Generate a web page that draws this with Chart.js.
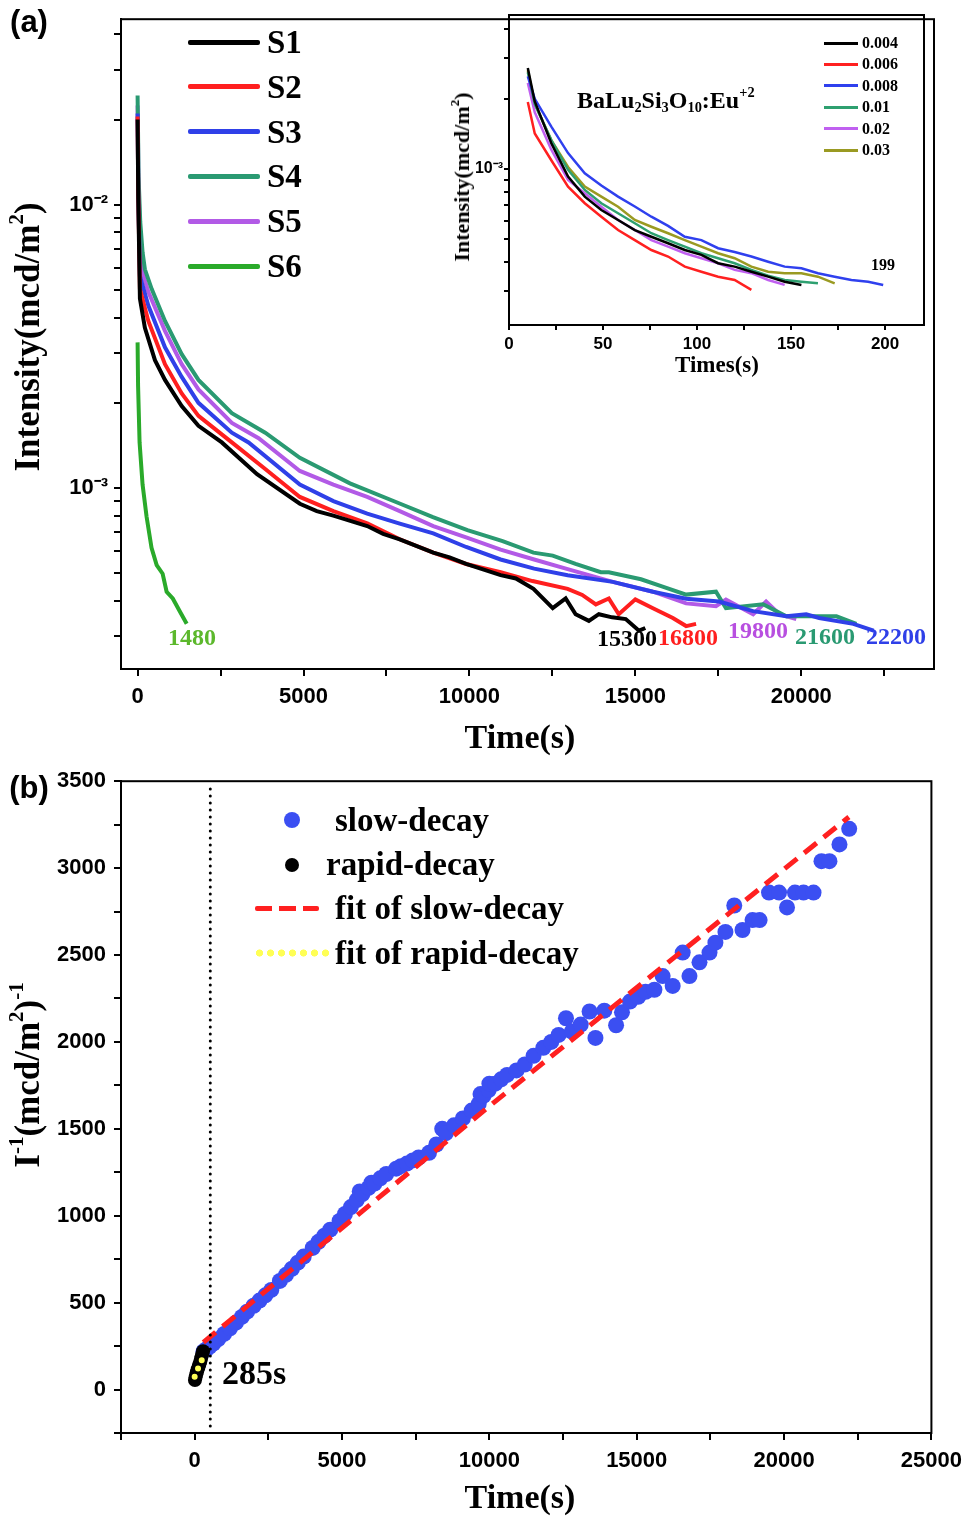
<!DOCTYPE html>
<html>
<head>
<meta charset="utf-8">
<script src="https://cdn.jsdelivr.net/npm/chart.js@4.4.0/dist/chart.umd.min.js"></script>
<style>
  body { margin: 0; background: #fff; }
  #page { position: relative; width: 970px; height: 1519px; overflow: hidden; background: #fff;
          font-family: "Liberation Serif", "Times New Roman", serif; font-weight: bold; color: #000; }
  canvas { position: absolute; }
  .t { position: absolute; white-space: nowrap; line-height: 1; z-index: 5; }
  .c { transform: translate(-50%, -50%); }
  .l { transform: translate(0, -50%); }
  .rot { transform: translate(-50%, -50%) rotate(-90deg); }
  .sans { font-family: "Liberation Sans", Arial, sans-serif; }
  sup { font-size: 0.6em; vertical-align: 0.75em; line-height: 0; }
  sub { font-size: 0.6em; vertical-align: -0.3em; line-height: 0; }
  .sw { position: absolute; z-index: 5; }
</style>
</head>
<body>
<div id="page">
  <canvas id="chartA" width="970" height="760" style="left:0;top:0"></canvas>
  <canvas id="chartInset" width="500" height="380" style="left:440px;top:0"></canvas>
  <canvas id="chartB" width="970" height="759" style="left:0;top:760px"></canvas>

  <!-- panel (a) text -->
  <div class="t c sans" style="left:29px;top:21px;font-size:31px">(a)</div>
  <div class="t rot" style="left:27px;top:337px;font-size:35px">Intensity(mcd/m<sup>2</sup>)</div>
  <div class="t c" style="left:520px;top:737px;font-size:34px">Time(s)</div>

  <div id="legendA"></div>

  <div class="t l" style="left:168px;top:637px;font-size:24px;color:#5cb82c">1480</div>
  <div class="t l" style="left:597px;top:638px;font-size:24px;color:#000">15300</div>
  <div class="t l" style="left:658px;top:637px;font-size:24px;color:#ff1f1f">16800</div>
  <div class="t l" style="left:728px;top:630px;font-size:24px;color:#b84fe0">19800</div>
  <div class="t l" style="left:795px;top:636px;font-size:24px;color:#2a9a72">21600</div>
  <div class="t l" style="left:866px;top:636px;font-size:24px;color:#2f40e8">22200</div>

  <!-- inset text -->
  <div class="t rot" style="left:462px;top:177px;font-size:22px">Intensity(mcd/m<sup>2</sup>)</div>
  <div class="t c" style="left:717px;top:364px;font-size:23px">Times(s)</div>
  <div class="t l" style="left:577px;top:100px;font-size:24px">BaLu<sub>2</sub>Si<sub>3</sub>O<sub>10</sub>:Eu<sup>+2</sup></div>
  <div class="t l" style="left:871px;top:265px;font-size:16px">199</div>
  <div id="legendInset"></div>

  <!-- panel (b) text -->
  <div class="t c sans" style="left:29px;top:787px;font-size:31px">(b)</div>
  <div class="t rot" style="left:27px;top:1075px;font-size:35px">I<sup>-1</sup>(mcd/m<sup>2</sup>)<sup>-1</sup></div>
  <div class="t c" style="left:520px;top:1497px;font-size:34px">Time(s)</div>
  <div class="t l" style="left:222px;top:1373px;font-size:34px">285s</div>
  <div id="legendB"></div>
</div>

<script>
// ---------- panel (a): afterglow decay curves ----------
const A_NAMES = ['S1', 'S2', 'S3', 'S4', 'S5', 'S6'];
const A_COLORS = ['#000000', '#ff1f1f', '#2f40e8', '#2a9a72', '#b25ae6', '#2aaa2a'];

const S1_T = [0, 20, 70, 220, 523, 825, 1329, 1834, 2538, 3600, 4890, 5400, 5900, 6920, 7400, 7900, 8910, 9400, 9900, 10940, 11400, 11930, 12510, 12900, 13200, 13600, 13900, 14300, 14710, 15110, 15300];
const S1_V = [0.020, 0.0105, 0.00467, 0.00368, 0.00283, 0.00241, 0.00195, 0.00166, 0.00145, 0.00112, 0.000881, 0.00083, 0.0008, 0.000735, 0.00069, 0.00066, 0.000592, 0.00057, 0.00054, 0.000493, 0.00048, 0.000441, 0.000377, 0.000408, 0.000359, 0.00034, 0.000359, 0.00035, 0.000345, 0.000314, 0.000321];

const S2_T = [0, 20, 70, 323, 825, 1329, 1834, 2840, 3800, 4890, 5900, 6920, 7900, 8910, 9900, 10940, 11900, 12960, 13400, 13810, 14200, 14500, 15000, 15530, 16130, 16530, 16830];
const S2_V = [0.0205, 0.011, 0.00505, 0.00389, 0.00274, 0.00216, 0.0018, 0.00145, 0.00118, 0.000931, 0.00083, 0.000752, 0.00066, 0.000592, 0.00054, 0.000505, 0.00047, 0.000441, 0.00042, 0.000389, 0.000408, 0.000359, 0.000405, 0.000377, 0.000348, 0.000326, 0.000332];

const S3_T = [0, 20, 70, 323, 825, 1329, 1834, 2840, 3344, 4890, 5900, 6920, 7900, 8910, 9900, 10940, 11950, 12960, 14320, 15530, 16530, 17520, 18550, 19550, 20150, 20540, 21570, 22180];
const S3_V = [0.021, 0.011, 0.0056, 0.00441, 0.00314, 0.00247, 0.002, 0.00157, 0.00145, 0.00103, 0.0009, 0.000813, 0.00075, 0.000693, 0.00062, 0.00056, 0.00052, 0.000493, 0.000467, 0.000431, 0.000407, 0.000398, 0.000368, 0.000353, 0.000359, 0.000348, 0.000332, 0.000314];

const S4_T = [0, 30, 80, 150, 220, 423, 825, 1329, 1834, 2840, 3846, 4890, 6400, 7915, 8900, 9940, 11000, 11930, 12510, 13200, 13960, 14200, 15170, 15800, 16530, 17430, 17730, 18850, 19550, 20300, 21060, 21660];
const S4_V = [0.0243, 0.0125, 0.0087, 0.0068, 0.00592, 0.00505, 0.00389, 0.00297, 0.00241, 0.00184, 0.00157, 0.00128, 0.00104, 0.000881, 0.00079, 0.000711, 0.00065, 0.000592, 0.000578, 0.00054, 0.000505, 0.000505, 0.000477, 0.00045, 0.000421, 0.000431, 0.000377, 0.000389, 0.000353, 0.000353, 0.000353, 0.000332];

const S5_T = [0, 30, 70, 121, 323, 825, 1329, 1834, 2840, 3647, 4890, 5900, 6920, 7900, 8910, 9900, 10940, 11950, 12960, 14320, 15530, 16530, 17430, 17730, 18550, 18940, 19340, 19850];
const S5_V = [0.0224, 0.0115, 0.0078, 0.00592, 0.00493, 0.00359, 0.00274, 0.00223, 0.0017, 0.0015, 0.00115, 0.00103, 0.000931, 0.00083, 0.000735, 0.00067, 0.000607, 0.00056, 0.000518, 0.000467, 0.000431, 0.000392, 0.000383, 0.000404, 0.000359, 0.000398, 0.000359, 0.000345];

const S6_T = [0, 15, 60, 150, 270, 420, 575, 755, 875, 1060, 1270, 1480];
const S6_V = [0.00327, 0.00229, 0.00145, 0.00103, 0.000794, 0.000616, 0.000535, 0.000499, 0.000431, 0.000408, 0.000368, 0.000332];

const A_X_TICKS = [0, 2500, 5000, 7500, 10000, 12500, 15000, 17500, 20000, 22500];
const A_Y_TICKS = [0.0003, 0.0004, 0.0005, 0.0006, 0.0007, 0.0008, 0.0009, 0.001, 0.002, 0.003, 0.004, 0.005, 0.006, 0.007, 0.008, 0.009, 0.01, 0.02, 0.03, 0.04];

// ---------- inset: Eu concentration series ----------
const IN_NAMES = ['0.004', '0.006', '0.008', '0.01', '0.02', '0.03'];
const IN_COLORS = ['#000000', '#ff2020', '#2f40ee', '#2ea070', '#c060f0', '#9a9a22'];
const IN_T = [10, 13.7, 22.5, 31.4, 40.3, 49.1, 58, 66.9, 75.7, 84.6, 93.5, 102.3, 111.2, 120, 128.9, 137.8, 146.6, 155.5, 164.3, 173.2, 182.1, 191, 199];
const IN_004 = [0.00271, 0.00195, 0.00129, 0.000927, 0.000761, 0.000667, 0.000604, 0.000547, 0.000512, 0.00048, 0.000449, 0.000428, 0.000394, 0.000381, 0.000362, 0.000345, 0.000328, 0.000318];
const IN_006 = [0.00194, 0.00142, 0.00109, 0.00084, 0.000713, 0.000624, 0.000547, 0.000495, 0.000449, 0.000421, 0.000381, 0.000362, 0.000345, 0.000334, 0.000303];
const IN_008 = [0.0025, 0.0020, 0.00152, 0.00117, 0.000959, 0.00085, 0.000761, 0.00069, 0.000624, 0.00057, 0.000512, 0.000495, 0.000457, 0.00044, 0.000421, 0.0004, 0.000381, 0.000375, 0.000357, 0.000345, 0.000334, 0.000328, 0.000318];
const IN_01 = [0.0026, 0.0019, 0.00133, 0.000991, 0.000813, 0.000713, 0.000646, 0.000585, 0.00053, 0.000495, 0.000464, 0.000435, 0.000414, 0.000394, 0.000369, 0.000348, 0.000334, 0.000328, 0.000323];
const IN_02 = [0.00234, 0.00175, 0.00121, 0.000897, 0.000787, 0.000689, 0.000604, 0.000547, 0.000495, 0.000464, 0.000435, 0.000414, 0.000394, 0.000369, 0.000357, 0.000334, 0.000318];
const IN_03 = [0.00265, 0.0019, 0.00133, 0.00102, 0.00084, 0.000761, 0.000689, 0.000604, 0.000565, 0.00053, 0.000495, 0.000464, 0.000435, 0.000414, 0.000381, 0.000362, 0.000357, 0.000357, 0.000345, 0.000323];
const IN_X_TICKS = [0, 25, 50, 75, 100, 125, 150, 175, 200];
const IN_Y_TICKS = [0.0003, 0.0004, 0.0005, 0.0006, 0.0007, 0.0008, 0.0009, 0.001, 0.002, 0.003, 0.004];

// ---------- panel (b): reciprocal intensity ----------
const SLOW_T = [300, 400, 500, 631, 800, 1000, 1200, 1400, 1600, 1778, 2000, 2200, 2400, 2600, 2891, 3100, 3300, 3500, 3700, 4005,
                4200, 4400, 4600, 4916, 5100, 5300, 5500, 5600, 5692, 5900, 6000, 6100, 6300, 6500, 6839, 7000, 7200, 7400, 7600, 7952,
                8200, 8400, 8525, 8800, 9100, 9400, 9639, 9700, 9800, 9976, 10000, 10200, 10400, 10600, 10920, 11200, 11500, 11830, 12100, 12350,
                12600, 12800, 13100, 13400, 13600, 13900, 14300, 14500, 14770, 15050, 15300, 15600, 15880, 16220, 16560, 16790, 17130, 17470, 17670, 18010,
                18310, 18590, 18930, 19170, 19490, 19830, 20100, 20370, 20660, 21000, 21270, 21540, 21880, 22210];
const SLOW_V = [220, 232, 245, 265, 290, 320, 352, 385, 418, 448, 482, 512, 542, 573, 625, 660, 695, 730, 765, 815,
                850, 885, 920, 970, 1010, 1050, 1090, 1140, 1125, 1160, 1190, 1185, 1215, 1240, 1271, 1285, 1300, 1318, 1335, 1362,
                1410, 1500, 1475, 1520, 1560, 1605, 1644, 1700, 1690, 1723, 1760, 1760, 1785, 1810, 1836, 1870, 1920, 1966, 2000, 2040,
                2136, 2060, 2100, 2175, 2023, 2180, 2096, 2170, 2232, 2260, 2288, 2300, 2379, 2322, 2514, 2379, 2458, 2514, 2571, 2633,
                2785, 2644, 2701, 2701, 2859, 2859, 2774, 2859, 2859, 2859, 3040, 3040, 3136, 3226];
const RAPID_T = [10, 30, 50, 75, 100, 130, 160, 190, 220, 250, 285];
const RAPID_V = [55, 70, 85, 100, 115, 130, 145, 160, 180, 200, 220];
const FIT_SLOW_T = [294, 9976, 22200];
const FIT_SLOW_V = [271, 1627, 3294];
const FIT_RAPID_T = [0, 135, 285];
const FIT_RAPID_V = [73, 130, 185];
const MARK_T = [530, 530];
const MARK_V = [-210, 3480];
const B_X_TICKS = [-2500, 0, 2500, 5000, 7500, 10000, 12500, 15000, 17500, 20000, 22500, 25000];
const B_Y_TICKS = [-250, 0, 250, 500, 750, 1000, 1250, 1500, 1750, 2000, 2250, 2500, 2750, 3000, 3250, 3500];
const B_LEGEND = ['slow-decay', 'rapid-decay', 'fit of slow-decay', 'fit of rapid-decay'];

// ---------- helpers ----------
const pts = (T, V) => V.map((v, i) => ({ x: T[i], y: v }));

const framePlugin = {
  id: 'frame',
  afterDraw(chart) {
    const { ctx, chartArea: a } = chart;
    ctx.save();
    ctx.strokeStyle = '#000';
    ctx.lineWidth = 2;
    ctx.strokeRect(a.left, a.top, a.right - a.left, a.bottom - a.top);
    ctx.restore();
  }
};

function axis(opts) {
  return {
    type: opts.type || 'linear',
    min: opts.min,
    max: opts.max,
    afterBuildTicks: s => { s.ticks = opts.ticks.map(v => ({ value: v })); },
    afterFit: s => { if (opts.width) s.width = opts.width; if (opts.height) s.height = opts.height; },
    grid: { drawOnChartArea: false, drawTicks: true, tickLength: opts.tick, color: '#000', lineWidth: 2 },
    border: { display: true, color: '#000', width: 2 },
    ticks: {
      autoSkip: false, maxRotation: 0, minRotation: 0, padding: opts.pad, color: '#000',
      font: { family: '"Liberation Sans", Arial, sans-serif', weight: 'bold', size: opts.font },
      callback: opts.label
    }
  };
}

const baseOptions = (padding, scales) => ({
  responsive: false,
  animation: false,
  layout: { padding, autoPadding: false },
  plugins: { legend: { display: false }, tooltip: { enabled: false } },
  scales
});

const lineSet = (data, color, width) => ({
  data, showLine: true, borderColor: color, borderWidth: width, pointRadius: 0, fill: false, tension: 0
});

// ---------- chart (a) ----------
const aT = [S1_T, S2_T, S3_T, S4_T, S5_T, S6_T];
const aV = [S1_V, S2_V, S3_V, S4_V, S5_V, S6_V];
new Chart(document.getElementById('chartA'), {
  type: 'scatter',
  data: { datasets: A_NAMES.map((n, i) => Object.assign(lineSet(pts(aT[i], aV[i]), A_COLORS[i], 4), { label: n })) },
  options: baseOptions({ left: 0, top: 4, right: 36, bottom: 0 }, {
    x: axis({ min: -500, max: 24000, ticks: A_X_TICKS, height: 91, tick: 7, pad: 8, font: 22,
              label: v => (v % 5000 === 0 ? String(v) : '') }),
    y: axis({ type: 'logarithmic', min: 0.00023, max: 0.0452, ticks: A_Y_TICKS, width: 121, tick: 7, pad: 6, font: 22,
              label: v => (v === 0.01 ? '10\u207B\u00B2' : v === 0.001 ? '10\u207B\u00B3' : '') })
  }),
  plugins: [framePlugin]
});

// ---------- inset ----------
const inV = [IN_004, IN_006, IN_008, IN_01, IN_02, IN_03];
new Chart(document.getElementById('chartInset'), {
  type: 'scatter',
  data: { datasets: IN_NAMES.map((n, i) => Object.assign(lineSet(pts(IN_T, inV[i]), IN_COLORS[i], 2.5), { label: n })) },
  options: baseOptions({ left: 0, top: 15, right: 16, bottom: 0 }, {
    x: axis({ min: 0, max: 220.7, ticks: IN_X_TICKS, height: 55, tick: 5, pad: 4, font: 17,
              label: v => (v % 50 === 0 ? String(v) : '') }),
    y: axis({ type: 'logarithmic', min: 0.000214, max: 0.00458, ticks: IN_Y_TICKS, width: 69, tick: 5, pad: 1, font: 16,
              label: v => (v === 0.001 ? '10\u207B\u00B3' : '') })
  }),
  plugins: [framePlugin]
});

// ---------- chart (b) ----------
new Chart(document.getElementById('chartB'), {
  type: 'scatter',
  data: {
    datasets: [
      Object.assign(lineSet(pts(MARK_T, MARK_V), '#000', 3), { borderDash: [0, 7], borderCapStyle: 'round', order: 0 }),
      Object.assign(lineSet(pts(FIT_RAPID_T, FIT_RAPID_V), '#ffff55', 6), { label: B_LEGEND[3], borderDash: [0, 9], borderCapStyle: 'round', order: 1 }),
      Object.assign(lineSet(pts(FIT_SLOW_T, FIT_SLOW_V), '#ff2020', 5), { label: B_LEGEND[2], borderDash: [16, 9], order: 2 }),
      { label: B_LEGEND[1], data: pts(RAPID_T, RAPID_V), pointRadius: 7, backgroundColor: '#000', borderWidth: 0, order: 3 },
      { label: B_LEGEND[0], data: pts(SLOW_T, SLOW_V), pointRadius: 8, backgroundColor: '#3b4ff2', borderWidth: 0, order: 4 }
    ]
  },
  options: baseOptions({ left: 0, top: 8, right: 36, bottom: 0 }, {
    x: axis({ min: -2500, max: 25000, ticks: B_X_TICKS, height: 86, tick: 7, pad: 8, font: 22,
              label: v => (v >= 0 && v % 5000 === 0 ? String(v) : '') }),
    y: axis({ min: -250, max: 3500, ticks: B_Y_TICKS, width: 121, tick: 7, pad: 8, font: 22,
              label: v => (v >= 0 && v % 500 === 0 ? String(v) : '') })
  }),
  plugins: [framePlugin]
});

// ---------- HTML legends ----------
const legA = document.getElementById('legendA');
A_NAMES.forEach((n, i) => {
  const y = 42 + i * 44.8;
  legA.insertAdjacentHTML('beforeend',
    `<div class="sw" style="left:188px;top:${y - 2.5}px;width:72px;height:5px;border-radius:2px;background:${A_COLORS[i]}"></div>` +
    `<div class="t l" style="left:267px;top:${y}px;font-size:33px">${n}</div>`);
});

const legIn = document.getElementById('legendInset');
IN_NAMES.forEach((n, i) => {
  const y = 43 + i * 21.4;
  legIn.insertAdjacentHTML('beforeend',
    `<div class="sw" style="left:824px;top:${y - 1.5}px;width:34px;height:3px;background:${IN_COLORS[i]}"></div>` +
    `<div class="t l" style="left:862px;top:${y}px;font-size:16px">${n}</div>`);
});

const legB = document.getElementById('legendB');
legB.innerHTML =
  `<div class="sw" style="left:284px;top:812px;width:16px;height:16px;border-radius:50%;background:#3b4ff2"></div>` +
  `<div class="t l" style="left:335px;top:820px;font-size:33px">${B_LEGEND[0]}</div>` +
  `<div class="sw" style="left:285px;top:858px;width:14px;height:14px;border-radius:50%;background:#000"></div>` +
  `<div class="t l" style="left:326px;top:864px;font-size:33px">${B_LEGEND[1]}</div>` +
  `<div class="sw" style="left:255px;top:906px;width:64px;height:5px;border-radius:2px;background:repeating-linear-gradient(to right,#ff2020 0 17px,transparent 17px 24px)"></div>` +
  `<div class="t l" style="left:335px;top:908px;font-size:33px">${B_LEGEND[2]}</div>` +
  `<div class="sw" style="left:254px;top:949px;width:77px;height:8px;background:radial-gradient(circle,#ffff55 3.3px,transparent 3.8px) 0 0/11px 8px repeat-x"></div>` +
  `<div class="t l" style="left:335px;top:953px;font-size:33px">${B_LEGEND[3]}</div>`;
</script>
</body>
</html>
